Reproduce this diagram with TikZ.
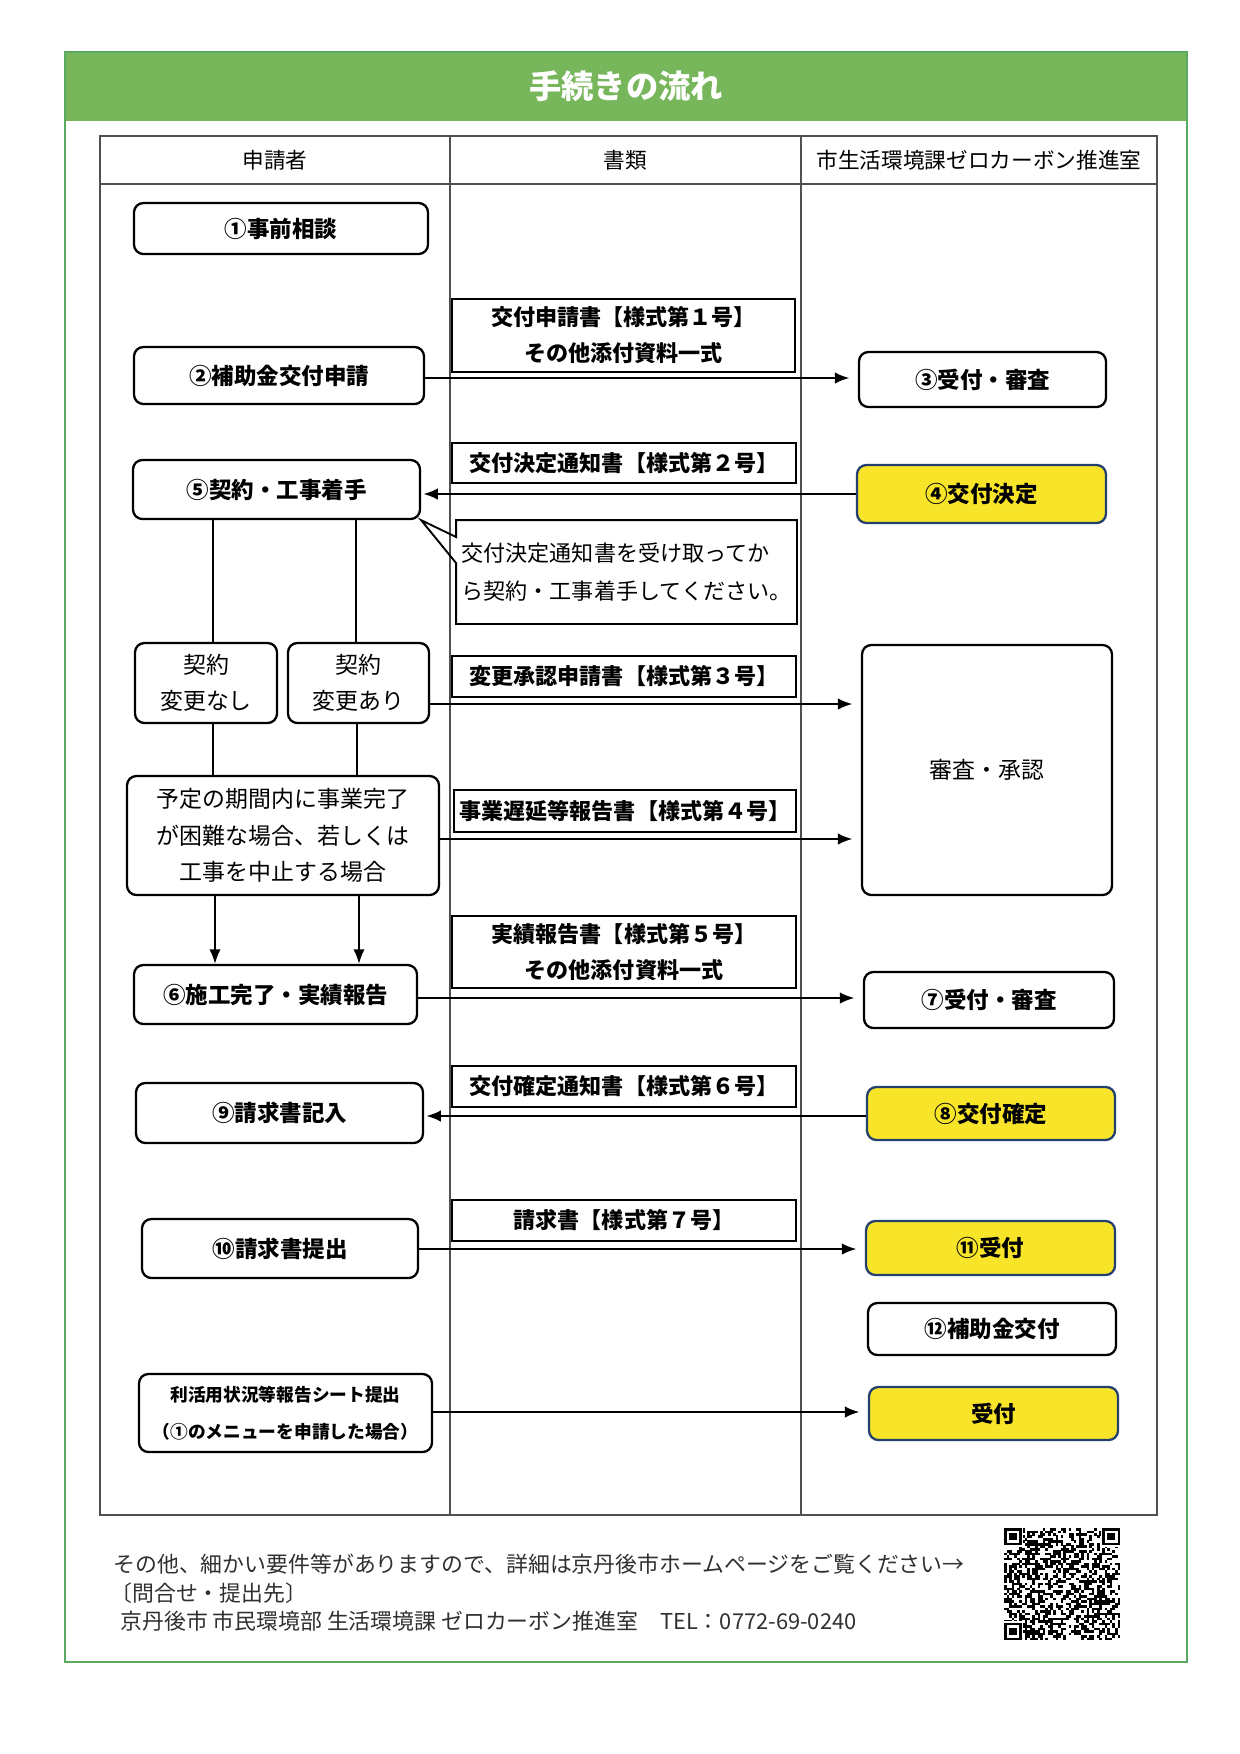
\documentclass[tikz,border=0pt]{standalone}
\usepackage{fontspec}
\setmainfont{Noto Sans CJK JP}
\usetikzlibrary{arrows.meta}
\definecolor{hdrgreen}{HTML}{78B65C}
\definecolor{frmgreen}{HTML}{5BAA62}
\definecolor{ylw}{HTML}{F8E52A}
\definecolor{navy}{HTML}{24406E}
\definecolor{tblgray}{HTML}{505050}
\definecolor{foot}{HTML}{303030}
\tikzset{
  box/.style={draw=black, line width=1.1pt, rounded corners=4.5pt, fill=white, inner sep=0pt, align=center, font=\bfseries\fontsize{10.8}{13}\selectfont},
  ybox/.style={box, draw=navy, fill=ylw},
  pbox/.style={box, font=\fontsize{11}{17.5}\selectfont},
  docbox/.style={draw=black, line width=0.9pt, inner sep=0pt, fill=white, align=center, font=\bfseries\fontsize{10.6}{17.3}\selectfont},
  arr/.style={line width=1.1pt, -{Latex[length=7pt,width=5.5pt]}},
  link/.style={line width=0.9pt},
  hdr/.style={font=\fontsize{10.4}{12}\selectfont},
  foottext/.style={anchor=west, inner sep=0pt, text=foot, font=\fontsize{10.5}{12}\selectfont},
}
\newcommand\placebox[7]{\node[#1, minimum width={0.48pt*(#5-#3)}, minimum height={0.48pt*(#6-#4)}] (#2) at ({(#3+#5)/2},{(#4+#6)/2}) {#7};}
\begin{document}
\begin{tikzpicture}[x=0.48pt,y=-0.48pt]
\useasboundingbox (0,0) rectangle (1240,1754);
\fill[white] (0,0) rectangle (1240,1754);
% frame and header bar
\fill[hdrgreen] (65,52) rectangle (1187,121);
\draw[frmgreen, line width=0.8pt] (65,52) rectangle (1187,1662);
\node[text=white, font=\bfseries\fontsize{15.5}{18}\selectfont] (title) at (626,86) {手続きの流れ};
% table
\draw[tblgray, line width=0.7pt] (100,136) rectangle (1157,1515);
\draw[tblgray, line width=0.7pt] (100,184) -- (1157,184);
\draw[tblgray, line width=0.6pt] (450,136) -- (450,1515);
\draw[tblgray, line width=0.6pt] (801,136) -- (801,1515);
\node[hdr] (h1) at (275,160) {申請者};
\node[hdr] (h2) at (625,160) {書類};
\node[hdr] (h3) at (979,160) {市生活環境課ゼロカーボン推進室};
% applicant column
\placebox{box}{n1}{134}{203}{428}{254}{①事前相談}
\placebox{box}{n2}{134}{347}{424}{404}{②補助金交付申請}
\placebox{box}{n5}{133}{460}{420}{519}{⑤契約・工事着手}
\placebox{pbox}{n5a}{135}{643}{277}{723}{契約\\変更なし}
\placebox{pbox}{n5b}{288}{643}{429}{723}{契約\\変更あり}
\placebox{pbox}{yotei}{127}{776}{439}{895}{予定の期間内に事業完了\\が困難な場合、若しくは\\工事を中止する場合}
\placebox{box}{n6}{134}{965}{417}{1024}{⑥施工完了・実績報告}
\placebox{box}{n9}{136}{1083}{423}{1143}{⑨請求書記入}
\placebox{box}{n10}{142}{1219}{418}{1278}{⑩請求書提出}
\placebox{box, font=\bfseries\fontsize{8.5}{17.8}\selectfont}{n13}{139}{1374}{432}{1452}{利活用状況等報告シート提出\\（①のメニューを申請した場合）}
% documents column
\placebox{docbox}{d1}{452}{299}{795}{372}{交付申請書【様式第１号】\\その他添付資料一式}
\placebox{docbox}{d2}{452}{443}{796}{483}{交付決定通知書【様式第２号】}
\placebox{docbox}{d3}{452}{656}{796}{697}{変更承認申請書【様式第３号】}
\placebox{docbox}{d4}{454}{790}{796}{832}{事業遅延等報告書【様式第４号】}
\placebox{docbox}{d5}{452}{916}{796}{988}{実績報告書【様式第５号】\\その他添付資料一式}
\placebox{docbox}{d6}{452}{1066}{796}{1107}{交付確定通知書【様式第６号】}
\placebox{docbox}{d7}{452}{1200}{796}{1241}{請求書【様式第７号】}
% callout
\placebox{docbox, draw=none, fill=none, align=left, font=\fontsize{10.6}{18.2}\selectfont}{note}{457}{521}{796}{623}{交付決定通知書を受け取ってか\\ら契約・工事着手してください。}
\draw[line width=0.9pt, line join=miter] (note.west |- 0,563) -- (note.south west) -- (note.south east) -- (note.north east) -- (note.north west) -- (note.west |- 0,537) -- (n5.south east) -- cycle;
% office column
\placebox{box}{n3}{859}{352}{1106}{407}{③受付・審査}
\placebox{ybox}{n4}{857}{465}{1106}{523}{④交付決定}
\placebox{pbox}{shinsa}{862}{645}{1112}{895}{審査・承認}
\placebox{box}{n7}{864}{972}{1114}{1028}{⑦受付・審査}
\placebox{ybox}{n8}{867}{1087}{1115}{1140}{⑧交付確定}
\placebox{ybox}{n11}{866}{1221}{1115}{1275}{⑪受付}
\placebox{box}{n12}{868}{1303}{1116}{1355}{⑫補助金交付}
\placebox{ybox}{n14}{869}{1387}{1118}{1440}{受付}
% connectors
\draw[arr, shorten >=4pt] (n2.east |- 0,378) -- (n3.west |- 0,378);
\draw[arr, shorten >=1pt] (n4.west |- 0,494) -- (n5.east |- 0,494);
\draw[link] (n5.south -| 213,0) -- (n5a.north -| 213,0);
\draw[link] (n5.south -| 356,0) -- (n5b.north -| 356,0);
\draw[link] (n5a.south -| 213,0) -- (yotei.north -| 213,0);
\draw[link] (n5b.south -| 357,0) -- (yotei.north -| 357,0);
\draw[arr, shorten >=4pt] (n5b.east |- 0,704) -- (shinsa.west |- 0,704);
\draw[arr, shorten >=4pt] (yotei.east |- 0,839) -- (shinsa.west |- 0,839);
\draw[arr, line width=0.9pt] (yotei.south -| 215,0) -- (n6.north -| 215,0);
\draw[arr, line width=0.9pt] (yotei.south -| 359,0) -- (n6.north -| 359,0);
\draw[arr, shorten >=4pt] (n6.east |- 0,998) -- (n7.west |- 0,998);
\draw[arr, shorten >=1pt] (n8.west |- 0,1116) -- (n9.east |- 0,1116);
\draw[arr, shorten >=4pt] (n10.east |- 0,1249) -- (n11.west |- 0,1249);
\draw[arr, shorten >=4pt] (n13.east |- 0,1412) -- (n14.west |- 0,1412);
% footer
\node[foottext] (f1) at (113,1564) {その他、細かい要件等がありますので、詳細は京丹後市ホームページをご覧ください→};
\node[foottext] (f2) at (110,1593) {〔問合せ・提出先〕};
\node[foottext] (f3) at (120,1621) {京丹後市 市民環境部 生活環境課 ゼロカーボン推進室　TEL：0772-69-0240};
% QR code (pattern)
\begin{scope}[shift={(1004,1528)}, xscale=2.58, yscale=2.49]
  \pgfmathsetseed{7}
  \foreach \i in {0,...,44}{\foreach \j in {0,...,44}{%
    \pgfmathparse{rnd}%
    \ifdim\pgfmathresult pt<0.5pt \fill[black] (\i,\j) rectangle ++(1.03,1.03);\fi}}
  \foreach \cx/\cy in {0/0,38/0,0/38}{%
    \fill[white] (\cx-0.5,\cy-0.5) rectangle ++(8,8);
    \fill[black] (\cx,\cy) rectangle ++(7,7);
    \fill[white] (\cx+1,\cy+1) rectangle ++(5,5);
    \fill[black] (\cx+2,\cy+2) rectangle ++(3,3);}
\end{scope}
\end{tikzpicture}
\end{document}
